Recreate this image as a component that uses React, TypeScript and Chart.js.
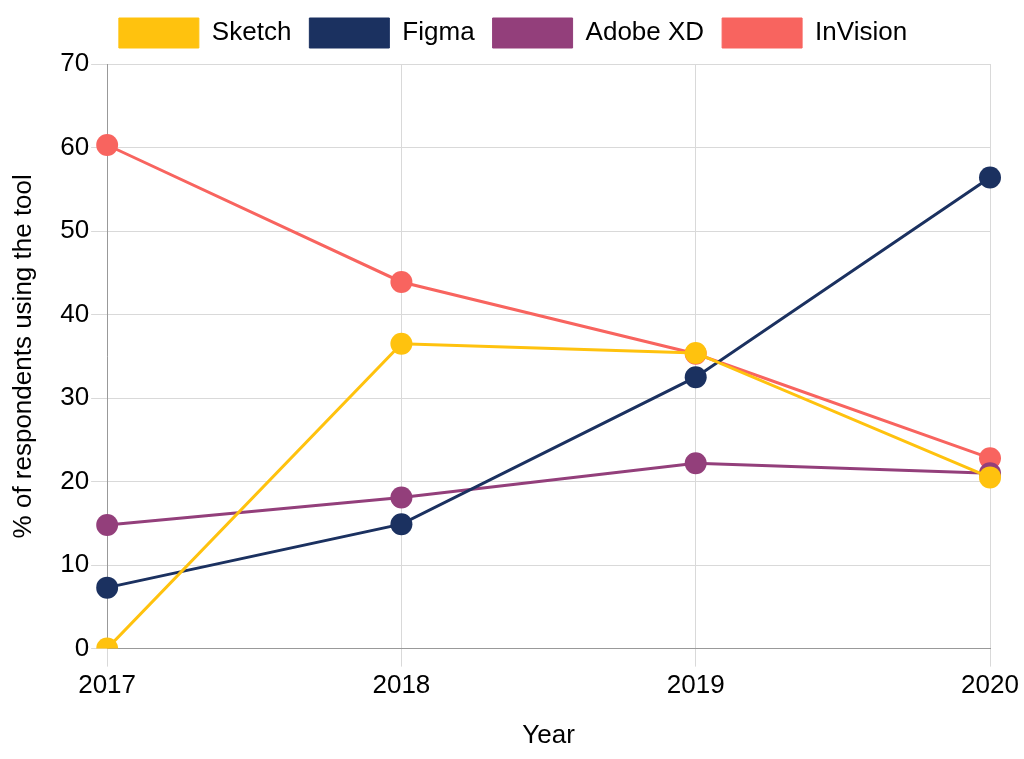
import React, { useEffect, useRef } from "react";
import { Chart, registerables } from "chart.js";

Chart.register(...registerables);

const years = ["2017", "2018", "2019", "2020"];
const sketch = [0, 36.5, 35.4, 20.5];
const figma = [7.3, 14.9, 32.5, 56.4];
const adobeXD = [14.8, 18.1, 22.2, 21.0];
const inVision = [60.3, 43.9, 35.3, 22.8];

const FONT = "'Liberation Sans', Arial, Helvetica, sans-serif";

const legendShift = {
  id: "legendShift",
  afterLayout(chart: any) {
    const lg = chart.legend;
    if (lg) {
      lg.left += 16;
      lg.right += 16;
      lg.top -= 6;
      lg.bottom -= 6;
    }
  },
};

export default function App() {
  const ref = useRef<HTMLCanvasElement | null>(null);
  useEffect(() => {
    document.body.style.margin = "0";
    const ctx = ref.current!;
    const mk = (label: string, data: number[], color: string) => ({
      label,
      data,
      borderColor: color,
      backgroundColor: color,
      pointBackgroundColor: color,
      pointBorderColor: color,
      pointRadius: 11,
      pointBorderWidth: 0,
      borderWidth: 3,
      tension: 0,
    });
    const chart = new Chart(ctx, {
      type: "line",
      data: {
        labels: years,
        datasets: [
          mk("Sketch", sketch, "#ffc20e"),
          mk("Figma", figma, "#1b3160"),
          mk("Adobe XD", adobeXD, "#933f7b"),
          mk("InVision", inVision, "#f8645f"),
        ],
      },
      plugins: [legendShift],
      options: {
        animation: false,
        responsive: false,
        layout: { padding: { left: 4, right: 34, top: 6, bottom: 4 } },
        plugins: {
          tooltip: { enabled: false },
          legend: {
            position: "top",
            labels: {
              boxWidth: 80,
              boxHeight: 30,
              padding: 18,
              color: "#000",
              font: { family: FONT, size: 26 },
              generateLabels: (c: any) =>
                Chart.defaults.plugins.legend.labels
                  .generateLabels(c)
                  .map((l: any) => ({ ...l, lineWidth: 1 })),
            },
          },
        },
        scales: {
          x: {
            offset: false,
            grid: { color: "#d9d9d9", tickLength: 18, lineWidth: 1 },
            border: { color: "#999999" },
            ticks: { color: "#000", font: { family: FONT, size: 26 }, padding: 4 },
            title: {
              display: true,
              text: "Year",
              color: "#000",
              font: { family: FONT, size: 26 },
              padding: { top: 14 },
            },
          },
          y: {
            min: 0,
            max: 70,
            grid: { color: "#d9d9d9", tickLength: 16, lineWidth: 1 },
            border: { color: "#999999" },
            ticks: { stepSize: 10, color: "#000", font: { family: FONT, size: 26 }, padding: 2 },
            title: {
              display: true,
              text: "% of respondents using the tool",
              color: "#000",
              font: { family: FONT, size: 26 },
              padding: { bottom: 19 },
            },
          },
        },
      },
    });
    return () => chart.destroy();
  }, []);
  return (
    <div style={{ width: 1024, height: 759 }}>
      <canvas ref={ref} width={1024} height={759} style={{ display: "block" }} />
    </div>
  );
}
